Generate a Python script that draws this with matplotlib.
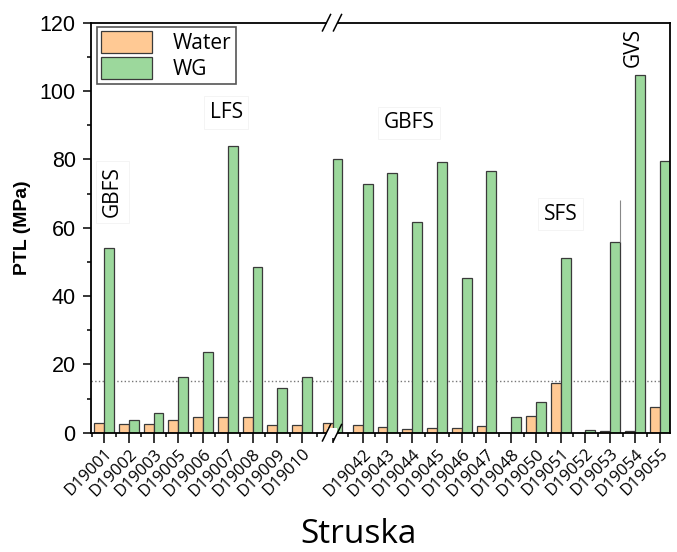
import matplotlib.pyplot as plt
import numpy as np
from matplotlib.ticker import MultipleLocator, FixedLocator
from matplotlib.patches import Rectangle

plt.rcParams['font.family'] = ['Liberation Sans', 'DejaVu Sans']

samples = ["D19001", "D19002", "D19003", "D19005", "D19006", "D19007", "D19008",
           "D19009", "D19010", "",
           "D19042", "D19043", "D19044", "D19045", "D19046", "D19047", "D19048",
           "D19050", "D19051", "D19052", "D19053", "D19054", "D19055"]
water = [2.75, 2.45, 2.45, 3.7, 4.5, 4.5, 4.7, 2.25, 2.25, 2.9,
         2.25, 1.6, 1.1, 1.4, 1.4, 2.0, 0.0, 4.8, 14.45, 0.0, 0.4, 0.4, 7.4]
wg = [54.0, 3.7, 5.85, 16.2, 23.7, 83.8, 48.4, 13.0, 16.2, 80.0,
      72.9, 76.1, 61.6, 79.1, 45.2, 76.7, 4.5, 9.0, 51.2, 0.8, 55.9, 104.7, 79.5]
threshold = 15

# positions, with the extra space around the axis break
x = np.arange(len(samples), dtype=float)
x[9] += 0.23
x[10:] += 0.45
w = 0.4

fig = plt.figure(figsize=(6.77, 5.52), dpi=100)
ax = fig.add_axes([0.1344, 0.2161, 0.8553, 0.7428])

ax.bar(x - w, water, w, align='edge', color='#FFC994', edgecolor='#3a3a3a',
       linewidth=0.9, label='Water', zorder=2)
ax.bar(x, wg, w, align='edge', color='#9CD89C', edgecolor='#3a3a3a',
       linewidth=0.9, label='WG', zorder=2)
ax.axhline(threshold, color='#777777', linestyle=':', linewidth=1.0, zorder=1)

# thin line next to D19053
i53 = samples.index("D19053")
ax.vlines(x[i53] + w, wg[i53], 68, color='#888888', linewidth=0.8, zorder=3)

ax.set_xlim(-0.53, 22.87)
ax.set_ylim(0, 120)
ax.yaxis.set_major_locator(MultipleLocator(20))
ax.yaxis.set_minor_locator(MultipleLocator(10))
ax.set_xticks(x)
ax.set_xticklabels(samples, rotation=45, ha='right', rotation_mode='anchor',
                   family='Open Sans', fontsize=12)
mids = np.concatenate([[x[0] - 0.5], (x[:-1] + x[1:]) / 2])
ax.xaxis.set_minor_locator(FixedLocator(mids))

ax.tick_params(axis='x', which='major', length=7.5, width=1.1, pad=2)
ax.tick_params(axis='x', which='minor', length=3, width=1.1)
ax.tick_params(axis='y', which='major', length=6, width=1.1, labelsize=15.5, pad=5)
ax.tick_params(axis='y', which='minor', length=3, width=1.1)
for s in ax.spines.values():
    s.set_linewidth(1.3)

ax.set_ylabel("PTL (MPa)", fontsize=14, fontweight='bold', labelpad=6)
fig.text(0.53, 0.016, "Struska", ha='center', va='baseline',
         family='Open Sans', fontsize=24)

box = dict(facecolor='white', edgecolor='#f2f2f2', linewidth=0.6, pad=4)
ax.text(0.34, 70.5, "GBFS", rotation=90, ha='center', va='center',
        family='Open Sans', fontsize=15, bbox=box, zorder=4)
ax.text(4.93, 93.7, "LFS", ha='center', va='center',
        family='Open Sans', fontsize=15, bbox=box, zorder=4)
ax.text(12.32, 90.7, "GBFS", ha='center', va='center',
        family='Open Sans', fontsize=15, bbox=box, zorder=4)
ax.text(18.46, 64, "SFS", ha='center', va='center',
        family='Open Sans', fontsize=15, bbox=box, zorder=4)
ax.text(21.4, 112.7, "GVS", rotation=90, ha='center', va='center',
        family='Open Sans', fontsize=15, zorder=4)

leg = ax.legend(loc='upper left', bbox_to_anchor=(0.01, 0.99), borderaxespad=0,
                prop={'family': 'Open Sans', 'size': 15}, fancybox=False,
                edgecolor='#555555', framealpha=1, handlelength=2.45,
                handleheight=1.25, labelspacing=0.13, borderpad=0.2,
                handletextpad=1.0)
leg.get_frame().set_linewidth(1.2)

# axis break marks at top and bottom
bx = (332 - 91) / 579
for yb in (0, 1):
    ax.add_patch(Rectangle((bx - 0.008, yb - 0.012), 0.016, 0.024,
                           transform=ax.transAxes, facecolor='white',
                           edgecolor='none', clip_on=False, zorder=5))
    for xc in (bx - 0.0095, bx + 0.0095):
        ax.plot([xc - 0.007, xc + 0.007], [yb - 0.02, yb + 0.02],
                transform=ax.transAxes, color='black', linewidth=1.1,
                clip_on=False, zorder=6)

fig.savefig("out.png", dpi=100)
